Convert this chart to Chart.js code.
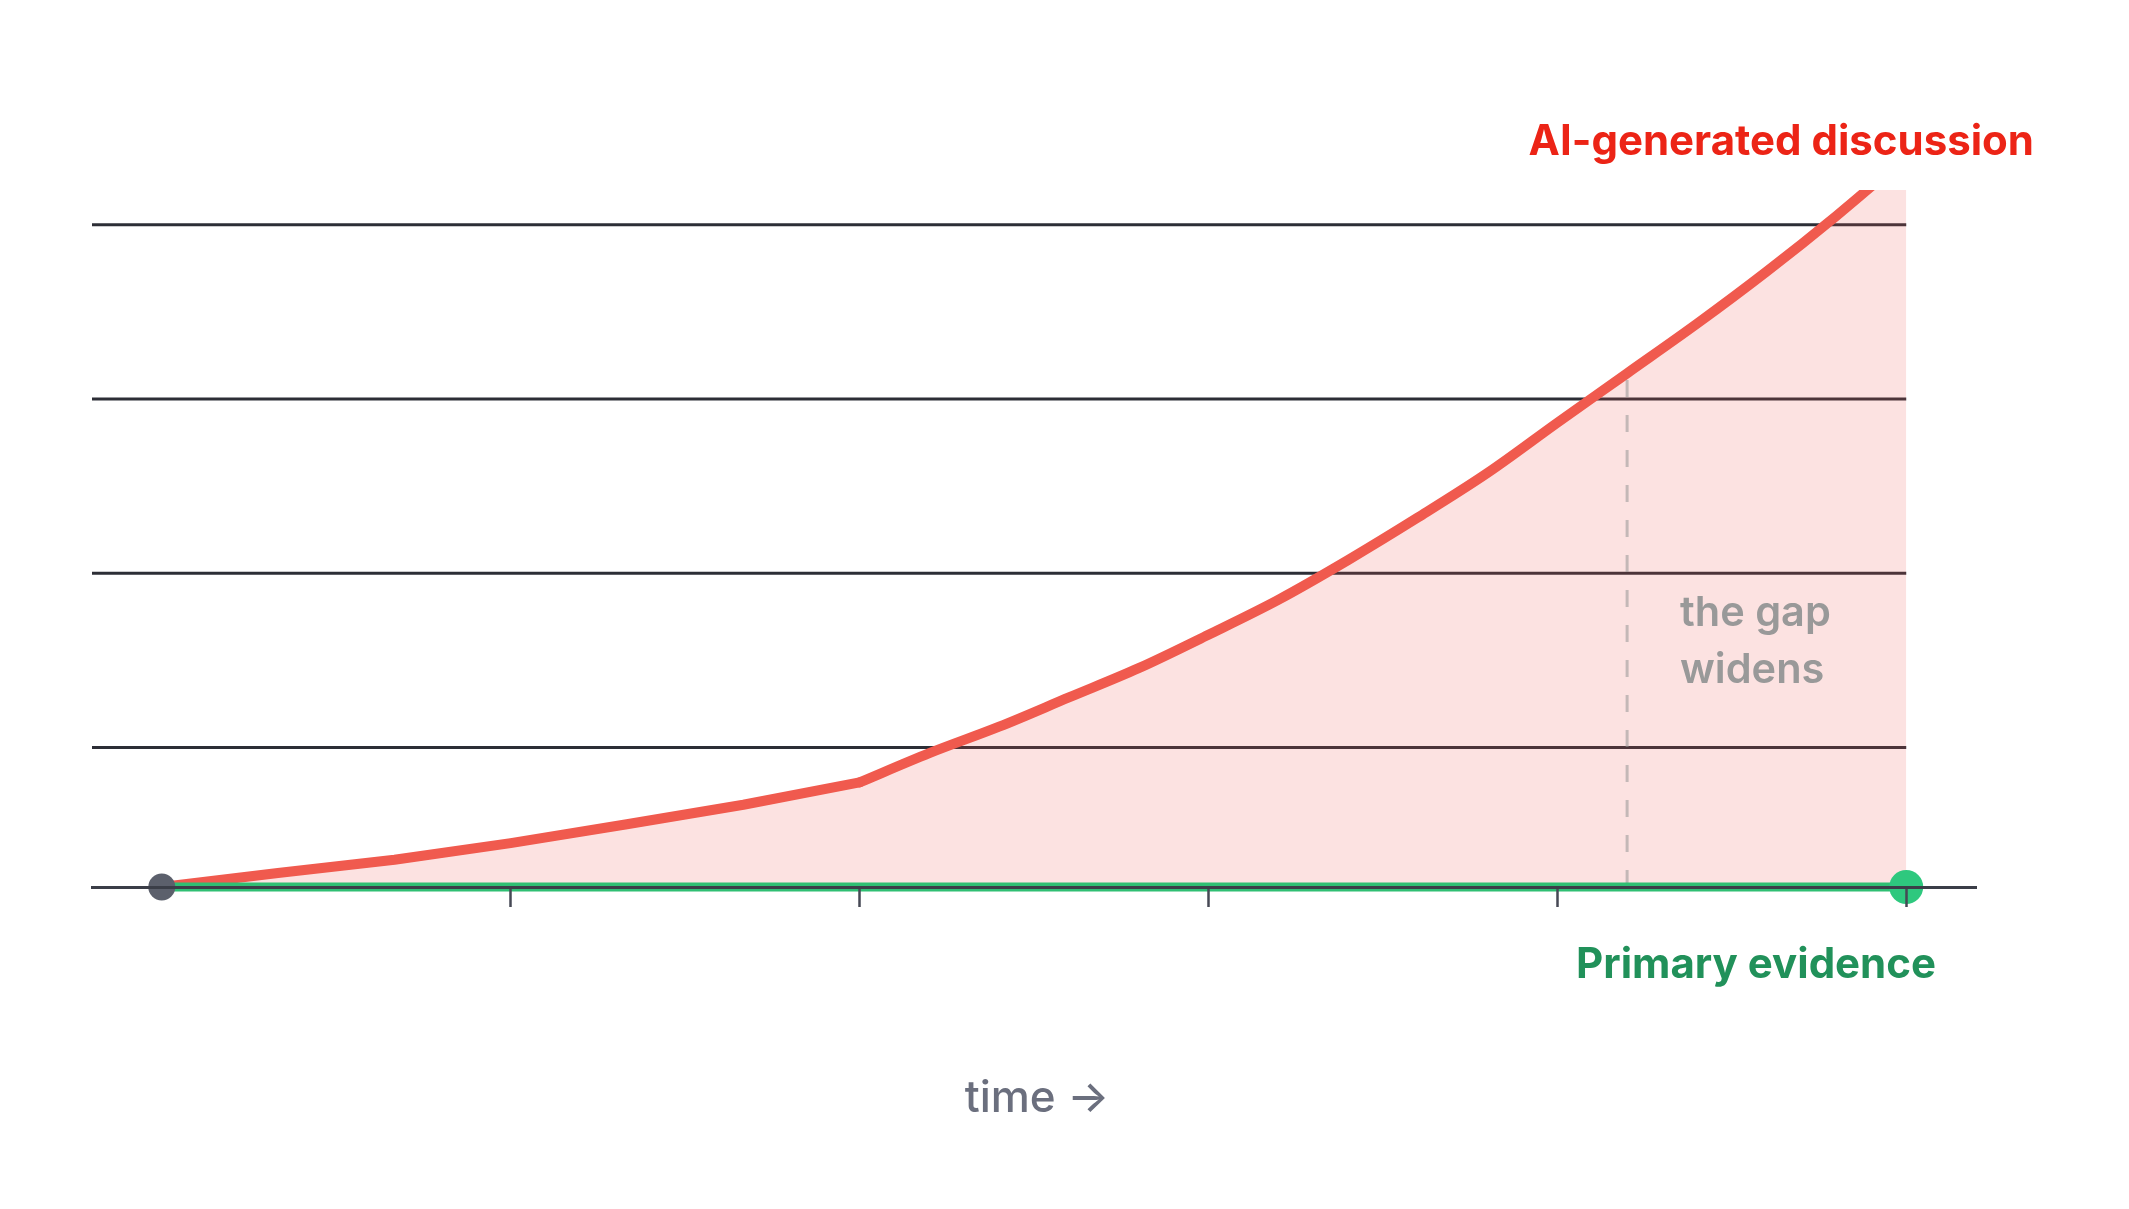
<!DOCTYPE html>
<html>
<head>
<meta charset="utf-8">
<script src="https://cdn.jsdelivr.net/npm/chart.js@4.4.1/dist/chart.umd.min.js"></script>
<style>
  html, body { margin: 0; padding: 0; background: #ffffff; }
  #c { display: block; }
</style>
</head>
<body>
<canvas id="c" width="2129" height="1209"></canvas>
<script>
// ---- data ----
const timeX = [0, 0.333, 0.667, 1, 1.333, 1.667, 2, 2.2, 2.4, 2.6, 2.8, 3, 3.2, 3.4, 3.6, 3.8, 4, 4.2, 4.4, 4.6, 4.8, 5];
const aiDiscussion = [0, 2.0, 3.9, 6.3, 9.0, 11.8, 15.0, 19.2, 23.0, 27.2, 31.4, 36.2, 41.2, 46.9, 53.0, 59.4, 66.6, 73.7, 80.8, 88.3, 96.3, 104.8];
const kinkIndex = 6; // x = 2, where the growth accelerates
const primaryX = [0, 5];
const primaryEvidence = [0, 0];
const markerX = [0, 5];
const markerY = [0, 0];
const gapX = [4.2, 4.2];
const gapY = [0, 73.7];
const gridValues = [20, 45, 70, 95];
const gridSpan = [-0.2, 5];
const tickPositions = [1, 2, 3, 4, 5];
const labels = {
  ai: 'AI-generated discussion',
  primary: 'Primary evidence',
  gap: ['the gap', 'widens'],
  time: 'time →'
};

const toXY = (xs, ys) => xs.map((x, i) => ({ x: x, y: ys[i] }));
const aiPoints = toXY(timeX, aiDiscussion);

const gridDatasets = gridValues.map(v => ({
  type: 'line',
  data: gridSpan.map(x => ({ x: x, y: v })),
  borderColor: '#2c2e36',
  borderWidth: 3,
  pointRadius: 0,
  fill: false,
  order: 10,
  clip: false
}));

const aiStroke = {
  borderColor: '#f05a4e',
  borderWidth: 10,
  borderJoinStyle: 'round',
  borderCapStyle: 'round',
  pointRadius: 0,
  fill: false,
  order: 5,
  clip: { left: false, right: false, top: 0, bottom: false }
};

const textPlugin = {
  id: 'annotText',
  afterDraw(chart) {
    const ctx = chart.ctx;
    ctx.save();
    ctx.textBaseline = 'alphabetic';
    ctx.font = 'bold 42px Inter';
    ctx.fillStyle = '#ec2416';
    ctx.textAlign = 'right';
    ctx.fillText(labels.ai, 2034, 155);
    ctx.font = 'bold 42px Inter';
    ctx.fillStyle = '#21915a';
    ctx.textAlign = 'right';
    ctx.fillText(labels.primary, 1936, 978);
    ctx.font = '600 41.5px Inter';
    ctx.fillStyle = '#999999';
    ctx.textAlign = 'left';
    ctx.fillText(labels.gap[0], 1680, 626);
    ctx.fillText(labels.gap[1], 1680, 683);
    ctx.font = '500 44px Inter';
    ctx.fillStyle = '#6b6f7e';
    ctx.textAlign = 'center';
    ctx.fillText(labels.time, 1037, 1112);
    ctx.restore();
  }
};

new Chart(document.getElementById('c'), {
  type: 'line',
  data: {
    datasets: [
      ...gridDatasets,
      {
        label: labels.ai + ' area',
        data: aiPoints,
        tension: 0,
        borderWidth: 0,
        borderColor: 'rgba(0,0,0,0)',
        backgroundColor: 'rgba(239, 83, 80, 0.17)',
        pointRadius: 0,
        fill: 'origin',
        order: 6
      },
      Object.assign({ label: labels.ai, data: aiPoints.slice(0, kinkIndex + 1), tension: 0 }, aiStroke),
      Object.assign({ label: labels.ai + ' (late)', data: aiPoints.slice(kinkIndex), cubicInterpolationMode: 'monotone' }, aiStroke),
      {
        label: 'gap',
        data: toXY(gapX, gapY),
        borderColor: 'rgba(150,150,150,0.55)',
        borderWidth: 3,
        borderDash: [17, 18],
        pointRadius: 0,
        fill: false,
        order: 4,
        clip: false
      },
      {
        label: labels.primary,
        data: toXY(primaryX, primaryEvidence),
        borderColor: '#2fbf73',
        borderWidth: 9,
        pointRadius: 0,
        fill: false,
        order: 2,
        clip: false
      },
      {
        type: 'scatter',
        label: 'ends',
        data: toXY(markerX, markerY),
        pointRadius: [13.5, 17],
        pointBackgroundColor: ['#5c606c', '#2ec87e'],
        pointBorderWidth: 0,
        borderWidth: 0,
        order: 1,
        clip: false
      }
    ]
  },
  options: {
    responsive: false,
    animation: false,
    devicePixelRatio: 1,
    layout: { padding: { left: 92, right: 153, top: 190, bottom: 302 } },
    plugins: { legend: { display: false }, tooltip: { enabled: false }, title: { display: false } },
    events: [],
    scales: {
      x: {
        type: 'linear',
        min: -0.2,
        max: 5.2,
        afterBuildTicks: (scale) => { scale.ticks = tickPositions.map(v => ({ value: v })); },
        grid: {
          display: true,
          drawOnChartArea: false,
          drawTicks: true,
          tickLength: 20,
          tickWidth: 2.5,
          tickColor: '#464955',
          z: 1
        },
        border: { display: true, color: '#3b3e48', width: 3, z: 1 },
        ticks: { display: false }
      },
      y: {
        type: 'linear',
        min: 0,
        max: 100,
        display: false
      }
    }
  },
  plugins: [textPlugin]
});
</script>
</body>
</html>
